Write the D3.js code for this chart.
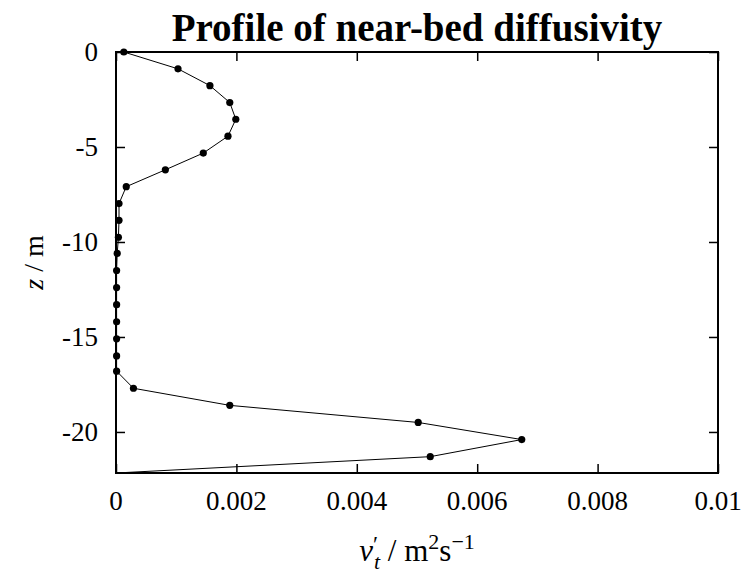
<!DOCTYPE html>
<html>
<head>
<meta charset="utf-8">
<script src="https://cdn.jsdelivr.net/npm/d3@7"></script>
<style>
  body { margin: 0; background: #fff; }
  text { font-family: "Liberation Serif", "DejaVu Serif", serif; fill: #000; }
</style>
</head>
<body>
<svg id="chart" width="754" height="576"></svg>
<script>
// depth of each sample (m)
var depth = [0, -0.886, -1.77, -2.66, -3.54, -4.43, -5.32, -6.20, -7.09, -7.98,
  -8.86, -9.75, -10.6, -11.5, -12.4, -13.3, -14.2, -15.1, -16.0, -16.8,
  -17.7, -18.6, -19.5, -20.4, -21.3, -22.16];
// near-bed diffusivity nu_t' (m^2/s)
var nu = [0.00013, 0.00103, 0.00156, 0.00189, 0.00199, 0.00186, 0.00145, 0.00082, 0.00017, 0.00005,
  0.00005, 0.00004, 0.00002, 0.00001, 0.00001, 0.00001, 0.00001, 0.00001, 0.00001, 0.00001,
  0.00029, 0.00189, 0.00502, 0.00674, 0.00522, 0];
var xTicks = [0, 0.002, 0.004, 0.006, 0.008, 0.01];
var xTickLabels = ["0", "0.002", "0.004", "0.006", "0.008", "0.01"];
var yTicks = [0, -5, -10, -15, -20];
var yTickLabels = ["0", "-5", "-10", "-15", "-20"];

var mLeft = 116, mRight = 718, mTop = 52, mBottom = 473;
var svg = d3.select("#chart");

var x = d3.scaleLinear().domain([0, 0.01]).range([mLeft, mRight]);
var y = d3.scaleLinear().domain([-22.16, 0]).range([mBottom, mTop]);

// ticks (inward, on all four sides like gnuplot)
var xAxisB = d3.axisBottom(x).tickValues(xTicks).tickSize(-9).tickFormat("");
var xAxisT = d3.axisTop(x).tickValues(xTicks).tickSize(-9).tickFormat("");
var yAxisL = d3.axisLeft(y).tickValues(yTicks).tickSize(-9).tickFormat("");
var yAxisR = d3.axisRight(y).tickValues(yTicks).tickSize(-9).tickFormat("");

[[xAxisB, "translate(0," + mBottom + ")"], [xAxisT, "translate(0," + mTop + ")"],
 [yAxisL, "translate(" + mLeft + ",0)"], [yAxisR, "translate(" + mRight + ",0)"]].forEach(function(a){
  var g = svg.append("g").attr("transform", a[1]).call(a[0]);
  g.select(".domain").remove();
  g.selectAll(".tick line").attr("stroke", "#000").attr("stroke-width", 1.5);
});

// tick labels
svg.append("g").selectAll("text").data(xTicks).enter().append("text")
  .attr("x", function(d){ return x(d); })
  .attr("y", mBottom + 37)
  .attr("text-anchor", "middle")
  .attr("font-size", 27)
  .text(function(d, i){ return xTickLabels[i]; });

svg.append("g").selectAll("text").data(yTicks).enter().append("text")
  .attr("x", mLeft - 18)
  .attr("y", function(d){ return y(d); })
  .attr("dy", "0.35em")
  .attr("text-anchor", "end")
  .attr("font-size", 27)
  .text(function(d, i){ return yTickLabels[i]; });

// data line + points
var line = d3.line().x(function(d, i){ return x(nu[i]); }).y(function(d){ return y(d); });
svg.append("path").datum(depth)
  .attr("d", line)
  .attr("fill", "none")
  .attr("stroke", "#000")
  .attr("stroke-width", 1);

svg.append("g").selectAll("circle").data(depth.slice(0, depth.length - 1)).enter().append("circle")
  .attr("cx", function(d, i){ return x(nu[i]); })
  .attr("cy", function(d){ return y(d); })
  .attr("r", 3.6)
  .attr("fill", "#000");

// frame
svg.append("rect")
  .attr("x", mLeft).attr("y", mTop)
  .attr("width", mRight - mLeft).attr("height", mBottom - mTop)
  .attr("fill", "none").attr("stroke", "#000").attr("stroke-width", 2);

// title
svg.append("text")
  .attr("x", (mLeft + mRight) / 2).attr("y", 41)
  .attr("text-anchor", "middle")
  .attr("font-size", 39).attr("font-weight", "bold")
  .text("Profile of near-bed diffusivity");

// y label
var yl = svg.append("text")
  .attr("transform", "translate(43," + ((mTop + mBottom) / 2) + ") rotate(-90)")
  .attr("text-anchor", "middle")
  .attr("font-size", 28);
yl.append("tspan").attr("font-style", "italic").text("z");
yl.append("tspan").text(" / m");

// x label
var xl = svg.append("text")
  .attr("x", (mLeft + mRight) / 2).attr("y", 561)
  .attr("text-anchor", "middle")
  .attr("font-size", 31);
xl.append("tspan").attr("font-style", "italic").text("ν");
xl.append("tspan").attr("font-size", 23).attr("dy", -9).text("′");
xl.append("tspan").attr("font-size", 22).attr("font-style", "italic").attr("dx", -4).attr("dy", 17).text("t");
xl.append("tspan").attr("dy", -8).text(" / m");
xl.append("tspan").attr("font-size", 22).attr("dy", -12).text("2");
xl.append("tspan").attr("dy", 12).text("s");
xl.append("tspan").attr("font-size", 22).attr("dy", -12).text("−1");
</script>
</body>
</html>
